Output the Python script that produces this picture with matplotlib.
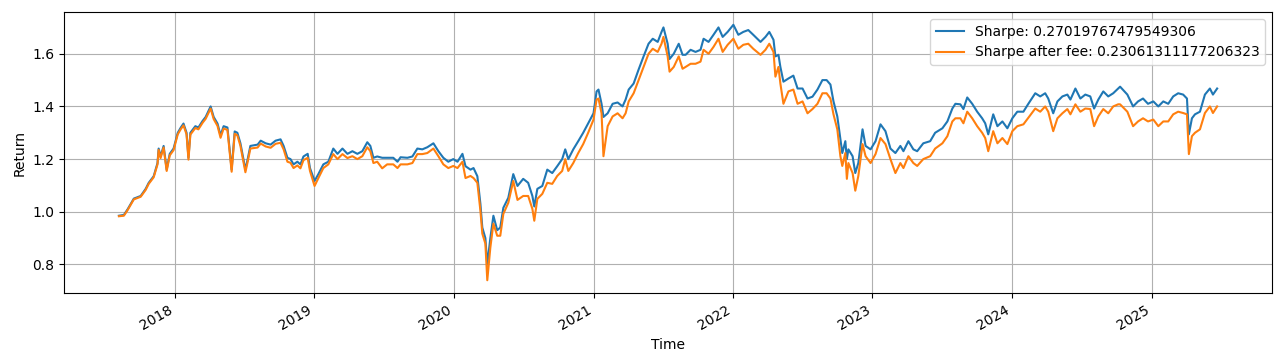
import matplotlib
matplotlib.use("Agg")
import matplotlib.pyplot as plt
import matplotlib.dates as mdates
import pandas as pd

dates = [
    "2017-08-08","2017-08-21","2017-08-31","2017-09-16","2017-10-04","2017-10-17","2017-10-25","2017-11-07",
    "2017-11-17","2017-11-20","2017-11-25","2017-12-03","2017-12-11","2017-12-19","2017-12-29","2018-01-09",
    "2018-01-17","2018-01-24","2018-02-01","2018-02-06","2018-02-11","2018-02-24","2018-03-04","2018-03-15",
    "2018-03-23","2018-04-05","2018-04-13","2018-04-23","2018-05-01","2018-05-09","2018-05-19","2018-05-30",
    "2018-06-07","2018-06-14","2018-06-22","2018-07-05","2018-07-11","2018-07-18","2018-08-06","2018-08-14",
    "2018-08-27","2018-09-09","2018-09-22","2018-10-05","2018-10-13","2018-10-23","2018-10-31","2018-11-08",
    "2018-11-18","2018-11-26","2018-12-04","2018-12-15","2018-12-21","2019-01-02","2019-01-12","2019-01-25",
    "2019-02-07","2019-02-20","2019-03-03","2019-03-16","2019-03-29","2019-04-11","2019-04-24","2019-05-07",
    "2019-05-20","2019-05-28","2019-06-05","2019-06-15","2019-06-28","2019-07-11","2019-07-27","2019-08-07",
    "2019-08-15","2019-09-02","2019-09-15","2019-09-28","2019-10-11","2019-10-24","2019-11-09","2019-11-22",
    "2019-12-05","2019-12-18","2019-12-31","2020-01-11","2020-01-24","2020-02-01","2020-02-14","2020-02-22",
    "2020-03-03","2020-03-11","2020-03-16","2020-03-24","2020-03-29","2020-04-06","2020-04-14","2020-04-24",
    "2020-05-02","2020-05-10","2020-05-23","2020-06-05","2020-06-16","2020-07-01","2020-07-14","2020-07-25",
    "2020-07-30","2020-08-07","2020-08-20","2020-09-02","2020-09-15","2020-09-28","2020-10-11","2020-10-19",
    "2020-10-27","2020-11-09","2020-11-22","2020-12-05","2020-12-18","2021-01-01","2021-01-09","2021-01-14",
    "2021-01-22","2021-01-27","2021-02-07","2021-02-20","2021-03-05","2021-03-18","2021-03-26","2021-04-03",
    "2021-04-16","2021-04-29","2021-05-12","2021-05-25","2021-06-05","2021-06-18","2021-06-28","2021-07-03",
    "2021-07-14","2021-07-19","2021-07-30","2021-08-12","2021-08-22","2021-08-30","2021-09-12","2021-09-25",
    "2021-10-08","2021-10-16","2021-10-29","2021-11-11","2021-11-24","2021-12-05","2021-12-18","2022-01-02",
    "2022-01-15","2022-01-28","2022-02-10","2022-02-23","2022-03-14","2022-03-27","2022-04-06","2022-04-17",
    "2022-04-22","2022-04-30","2022-05-05","2022-05-13","2022-05-26","2022-06-08","2022-06-19","2022-07-02",
    "2022-07-15","2022-07-28","2022-08-10","2022-08-23","2022-09-03","2022-09-13","2022-09-21","2022-10-01",
    "2022-10-09","2022-10-14","2022-10-22","2022-10-26","2022-10-30","2022-11-10","2022-11-17","2022-11-25",
    "2022-12-06","2022-12-14","2022-12-27","2023-01-09","2023-01-22","2023-02-04","2023-02-17","2023-03-02",
    "2023-03-15","2023-03-23","2023-04-05","2023-04-18","2023-04-28","2023-05-14","2023-06-01","2023-06-14",
    "2023-07-03","2023-07-16","2023-07-29","2023-08-06","2023-08-19","2023-08-27","2023-09-06","2023-09-19",
    "2023-10-02","2023-10-15","2023-10-23","2023-10-31","2023-11-13","2023-11-24","2023-12-07","2023-12-20",
    "2024-01-02","2024-01-15","2024-01-31","2024-02-12","2024-03-02","2024-03-15","2024-03-28","2024-04-05",
    "2024-04-18","2024-04-29","2024-05-12","2024-05-25","2024-06-02","2024-06-15","2024-06-28","2024-07-11",
    "2024-07-24","2024-08-03","2024-08-14","2024-08-27","2024-09-09","2024-09-22","2024-10-05","2024-10-10",
    "2024-10-29","2024-11-13","2024-11-26","2024-12-09","2024-12-22","2025-01-05","2025-01-18","2025-01-31",
    "2025-02-13","2025-02-26","2025-03-11","2025-03-24","2025-04-03","2025-04-08","2025-04-16","2025-04-24",
    "2025-05-07","2025-05-20","2025-06-02","2025-06-10","2025-06-21",
]

sharpe_values = [
    0.985,0.988,1.010,1.050,1.060,1.087,1.110,1.135,
    1.185,1.240,1.210,1.250,1.160,1.220,1.240,1.300,
    1.320,1.335,1.300,1.205,1.300,1.325,1.320,1.345,
    1.360,1.400,1.360,1.335,1.290,1.325,1.320,1.160,
    1.305,1.300,1.260,1.160,1.200,1.250,1.255,1.270,
    1.260,1.255,1.270,1.275,1.250,1.205,1.200,1.180,
    1.190,1.180,1.210,1.220,1.166,1.117,1.143,1.180,
    1.190,1.240,1.220,1.240,1.220,1.230,1.220,1.230,
    1.264,1.250,1.205,1.210,1.205,1.205,1.205,1.190,
    1.207,1.205,1.210,1.240,1.237,1.245,1.260,1.230,
    1.205,1.190,1.200,1.190,1.220,1.173,1.160,1.166,
    1.135,1.030,0.940,0.900,0.800,0.900,0.985,0.930,
    0.940,1.015,1.053,1.143,1.098,1.125,1.110,1.060,
    1.020,1.087,1.098,1.160,1.147,1.173,1.200,1.237,
    1.200,1.237,1.268,1.300,1.336,1.374,1.457,1.464,
    1.410,1.360,1.374,1.410,1.415,1.400,1.426,1.464,
    1.487,1.540,1.590,1.638,1.657,1.645,1.683,1.700,
    1.638,1.580,1.600,1.638,1.596,1.596,1.615,1.607,
    1.615,1.657,1.645,1.672,1.700,1.664,1.683,1.710,
    1.672,1.683,1.690,1.672,1.645,1.664,1.683,1.653,
    1.590,1.596,1.550,1.494,1.506,1.517,1.468,1.468,
    1.430,1.437,1.464,1.500,1.500,1.483,1.419,1.362,
    1.275,1.223,1.268,1.200,1.237,1.211,1.147,1.185,
    1.313,1.250,1.237,1.268,1.332,1.306,1.240,1.223,
    1.250,1.230,1.268,1.237,1.230,1.260,1.268,1.300,
    1.317,1.343,1.392,1.410,1.408,1.390,1.434,1.410,
    1.380,1.355,1.336,1.294,1.370,1.325,1.343,1.317,
    1.355,1.380,1.380,1.408,1.450,1.438,1.450,1.430,
    1.374,1.419,1.438,1.445,1.426,1.468,1.430,1.445,
    1.438,1.392,1.426,1.457,1.438,1.450,1.468,1.475,
    1.445,1.400,1.419,1.430,1.410,1.419,1.400,1.419,
    1.410,1.438,1.450,1.445,1.430,1.294,1.355,1.370,
    1.380,1.445,1.468,1.445,1.468,
]

after_fee_values = [
    0.983,0.985,1.007,1.047,1.057,1.083,1.106,1.131,
    1.180,1.235,1.204,1.244,1.155,1.214,1.234,1.294,
    1.314,1.328,1.294,1.198,1.293,1.318,1.313,1.338,
    1.353,1.392,1.352,1.326,1.281,1.316,1.311,1.152,
    1.296,1.290,1.250,1.150,1.190,1.240,1.244,1.259,
    1.248,1.243,1.258,1.262,1.237,1.190,1.186,1.166,
    1.176,1.165,1.196,1.205,1.155,1.098,1.128,1.166,
    1.180,1.219,1.200,1.219,1.204,1.211,1.200,1.211,
    1.245,1.230,1.185,1.190,1.165,1.180,1.180,1.166,
    1.180,1.180,1.185,1.219,1.219,1.223,1.240,1.211,
    1.180,1.166,1.174,1.166,1.190,1.128,1.136,1.128,
    1.110,1.004,0.917,0.879,0.740,0.864,0.955,0.909,
    0.909,0.992,1.034,1.117,1.045,1.060,1.060,1.011,
    0.966,1.049,1.068,1.110,1.106,1.136,1.155,1.200,
    1.155,1.185,1.223,1.257,1.300,1.350,1.426,1.430,
    1.374,1.211,1.325,1.362,1.374,1.355,1.374,1.419,
    1.450,1.500,1.550,1.600,1.619,1.607,1.638,1.664,
    1.590,1.532,1.550,1.590,1.543,1.550,1.562,1.562,
    1.570,1.615,1.600,1.626,1.657,1.607,1.634,1.657,
    1.619,1.634,1.638,1.619,1.596,1.615,1.638,1.607,
    1.513,1.550,1.487,1.410,1.457,1.464,1.410,1.419,
    1.374,1.390,1.410,1.450,1.450,1.430,1.370,1.313,
    1.211,1.174,1.223,1.125,1.185,1.147,1.080,1.136,
    1.257,1.211,1.185,1.219,1.280,1.257,1.200,1.147,
    1.185,1.166,1.211,1.185,1.174,1.200,1.211,1.240,
    1.260,1.287,1.343,1.355,1.355,1.336,1.380,1.355,
    1.325,1.300,1.280,1.230,1.306,1.260,1.280,1.257,
    1.306,1.325,1.332,1.355,1.392,1.380,1.400,1.380,
    1.306,1.355,1.374,1.390,1.370,1.408,1.380,1.392,
    1.390,1.325,1.362,1.390,1.374,1.400,1.408,1.408,
    1.380,1.325,1.343,1.355,1.343,1.350,1.325,1.343,
    1.343,1.370,1.380,1.375,1.370,1.219,1.287,1.300,
    1.313,1.375,1.400,1.375,1.400,
]

label_sharpe = "Sharpe: 0.27019767479549306"
label_fee = "Sharpe after fee: 0.23061311177206323"

t = pd.to_datetime(dates)

fig, ax = plt.subplots(figsize=(12.8, 3.64), dpi=100)
ax.plot(t, sharpe_values, color="#1f77b4", lw=1.5, label=label_sharpe)
ax.plot(t, after_fee_values, color="#ff7f0e", lw=1.5, label=label_fee)
ax.grid(True)
ax.set_xlabel("Time")
ax.set_ylabel("Return")
ax.legend(loc="upper right")
ax.xaxis.set_major_locator(mdates.YearLocator())
ax.xaxis.set_major_formatter(mdates.DateFormatter("%Y"))
fig.autofmt_xdate()
fig.subplots_adjust(left=0.05, right=0.9938, top=0.967, bottom=0.195)
fig.savefig("out.png", dpi=100)
